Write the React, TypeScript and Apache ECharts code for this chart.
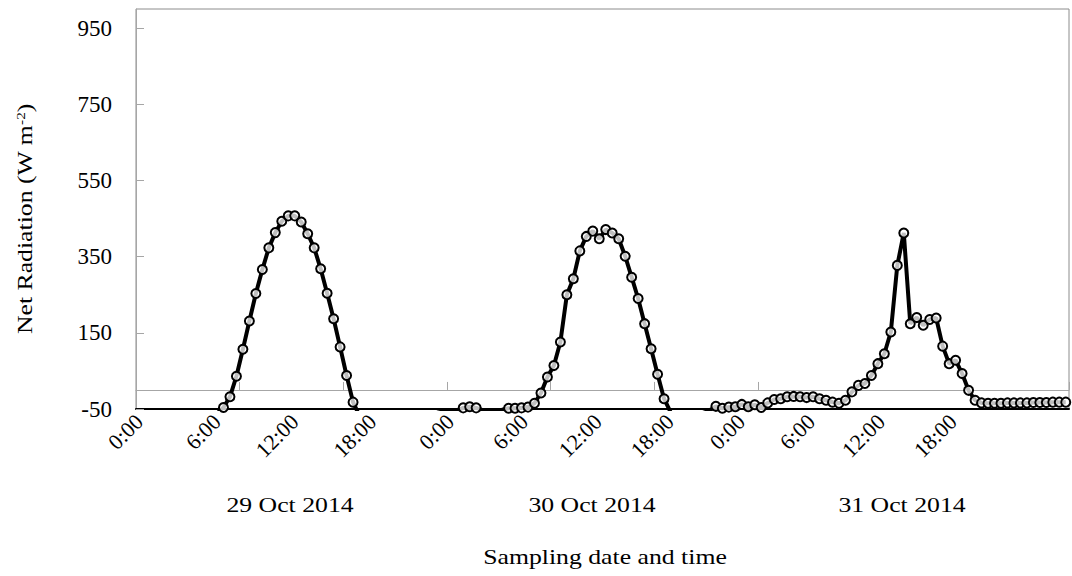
import React, { useEffect, useRef } from "react";
import * as echarts from "echarts";

// Half-hourly net radiation (W m-2), 48 readings per day starting 0:00.
// Values below -50 are night readings that fall outside the plotted range.
const day29Oct: number[] = [
  -70, -71, -72, -72, -73, -73, -74, -74, -75, -75, -74, -72,
  -62, -46, -18, 36, 107, 181, 253, 316, 373, 413, 443, 457,
  457, 441, 410, 373, 318, 254, 187, 113, 38, -32, -68, -72,
  -74, -75, -76, -76, -77, -77, -76, -75, -72, -66, -60, -56,
];
const day30Oct: number[] = [
  -58, -54, -47, -44, -47, -53, -56, -55, -52, -48, -48, -47,
  -45, -35, -8, 34, 64, 126, 250, 292, 365, 403, 417, 397,
  421, 412, 397, 351, 296, 240, 174, 108, 41, -23, -58, -64,
  -67, -68, -66, -60, -54, -43, -48, -45, -44, -38, -44, -39,
];
const day31Oct: number[] = [
  -46, -34, -25, -23, -18, -17, -18, -20, -18, -23, -27, -32,
  -35, -27, -5, 12, 17, 38, 69, 95, 152, 327, 412, 174,
  190, 170, 185, 189, 115, 69, 78, 43, -1, -27, -34, -35,
  -35, -35, -34, -34, -34, -34, -33, -33, -33, -32, -32, -32,
];

// Tick labels of the time axis, and where they sit (in half-hour slots).
const timeLabels: string[] = [
  "0:00", "6:00", "12:00", "18:00",
  "0:00", "6:00", "12:00", "18:00",
  "0:00", "6:00", "12:00", "18:00",
];
const timeLabelSlots: number[] = [0.5, 12.5, 24.5, 36.5, 48.5, 59.9, 71.3, 82.4, 93.4, 104.2, 115, 126.1];

const dateLabels: string[] = ["29 Oct 2014", "30 Oct 2014", "31 Oct 2014"];
const yTicks: number[] = [-50, 150, 350, 550, 750, 950];

const FONT = "'Liberation Serif', 'Times New Roman', serif";

export default function App() {
  const ref = useRef<HTMLDivElement>(null);

  useEffect(() => {
    if (!ref.current) return;
    const chart = echarts.init(ref.current, undefined, { renderer: "svg" });
    const all = [...day29Oct, ...day30Oct, ...day31Oct];
    const data = all.map((v, i) => [i + 0.5, v]);
    const slotCount = all.length;

    const dateX = [290, 592, 902];

    chart.setOption({
      animation: false,
      backgroundColor: "#fff",
      grid: {
        left: 136,
        right: 3,
        top: 9,
        bottom: 167,
        show: true,
        borderColor: "#8c8c8c",
        borderWidth: 1,
      },
      xAxis: [
        {
          type: "value",
          min: 0,
          max: slotCount,
          interval: 16,
          position: "bottom",
          axisLine: { show: true, onZero: true, lineStyle: { color: "#a6a6a6", width: 1 } },
          axisTick: { show: true, inside: true, length: 8, lineStyle: { color: "#a6a6a6" } },
          axisLabel: { show: false },
          splitLine: { show: false },
        },
        {
          type: "value",
          min: 0,
          max: slotCount,
          position: "bottom",
          axisLine: { show: true, onZero: false, lineStyle: { color: "#000", width: 2 } },
          axisTick: { show: false },
          axisLabel: {
            show: true,
            customValues: timeLabelSlots,
            formatter: (v: number) => {
              const k = timeLabelSlots.indexOf(v);
              return k >= 0 ? timeLabels[k] : "";
            },
            rotate: 45,
            margin: 9,
            fontFamily: FONT,
            fontSize: 22,
            color: "#000",
          },
          splitLine: { show: false },
        },
      ],
      yAxis: {
        type: "value",
        min: -50,
        max: 1000,
        axisLine: { show: true, onZero: false, lineStyle: { color: "#a6a6a6", width: 1 } },
        axisTick: { show: true, inside: true, length: 8, customValues: yTicks, lineStyle: { color: "#a6a6a6" } },
        axisLabel: {
          show: true,
          customValues: yTicks,
          margin: 24,
          fontFamily: FONT,
          fontSize: 23,
          color: "#000",
        },
        splitLine: { show: false },
      },
      series: [
        {
          type: "line",
          xAxisIndex: 0,
          data,
          clip: true,
          symbol: "circle",
          symbolSize: 9,
          lineStyle: { color: "#000", width: 4 },
          itemStyle: { color: "rgba(255,255,255,0.75)", borderColor: "#000", borderWidth: 2 },
        },
      ],
      graphic: [
        {
          type: "text",
          x: 25,
          y: 219,
          rotation: Math.PI / 2,
          scaleX: 1.17,
          style: {
            text: "{n|Net Radiation (W m}{sup|-2}{n|)}",
            fontFamily: FONT,
            fontSize: 22,
            fill: "#000",
            align: "center",
            verticalAlign: "middle",
            rich: {
              n: { fontFamily: FONT, fontSize: 22, fontWeight: "normal", fill: "#000" },
              sup: { fontFamily: FONT, fontSize: 13, fontWeight: "normal", padding: [0, 0, 9, 0], fill: "#000" },
            },
          },
        },
        ...dateLabels.map((t, k) => ({
          type: "text",
          x: dateX[k],
          y: 505,
          scaleX: 1.17,
          style: {
            text: t,
            fontFamily: FONT,
            fontSize: 22,
            fill: "#000",
            align: "center",
            verticalAlign: "middle",
          },
        })),
        {
          type: "text",
          x: 605,
          y: 557,
          scaleX: 1.17,
          style: {
            text: "Sampling date and time",
            fontFamily: FONT,
            fontSize: 22,
            fill: "#000",
            align: "center",
            verticalAlign: "middle",
          },
        },
      ],
    });

    return () => chart.dispose();
  }, []);

  return (
    <div
      ref={ref}
      style={{ position: "absolute", left: 0, top: 0, width: 1072, height: 576 }}
    />
  );
}
